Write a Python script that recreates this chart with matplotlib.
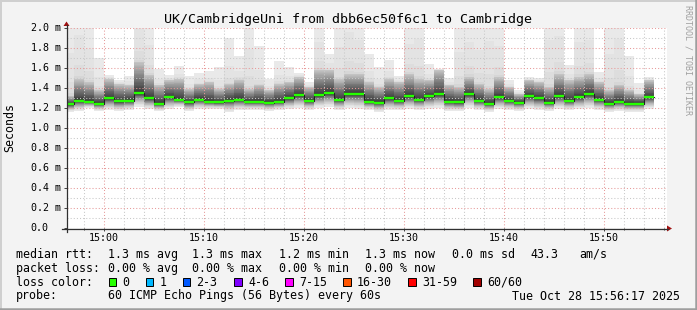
import numpy as np
import pandas as pd
import matplotlib
matplotlib.use('Agg')
from matplotlib import pyplot as plt
import matplotlib.dates as mdates
from matplotlib.lines import Line2D
from matplotlib.patches import Polygon, Rectangle
from matplotlib.ticker import MultipleLocator, NullFormatter
from matplotlib.transforms import blended_transform_factory

# per-minute ping statistics (ms), one value per 60s probe round, 14:56 .. 15:54
median_rtt = [1.236, 1.273, 1.263, 1.243, 1.296, 1.266, 1.273, 1.347, 1.296, 1.243,
              1.306, 1.283, 1.256, 1.283, 1.263, 1.256, 1.273, 1.283, 1.263, 1.263,
              1.253, 1.263, 1.296, 1.326, 1.273, 1.326, 1.347, 1.283, 1.337, 1.337,
              1.263, 1.253, 1.296, 1.273, 1.316, 1.283, 1.316, 1.337, 1.263, 1.256,
              1.337, 1.273, 1.243, 1.306, 1.273, 1.253, 1.316, 1.296, 1.253, 1.316,
              1.273, 1.306, 1.337, 1.283, 1.243, 1.263, 1.243, 1.243, 1.306]
rtt_min = [1.16, 1.17, 1.20, 1.17, 1.18, 1.17, 1.18, 1.21, 1.19, 1.17,
           1.19, 1.21, 1.17, 1.19, 1.19, 1.19, 1.16, 1.18, 1.18, 1.18,
           1.17, 1.18, 1.19, 1.20, 1.18, 1.20, 1.21, 1.18, 1.20, 1.19,
           1.18, 1.16, 1.18, 1.18, 1.19, 1.18, 1.19, 1.20, 1.17, 1.17,
           1.20, 1.18, 1.16, 1.19, 1.18, 1.17, 1.19, 1.18, 1.17, 1.19,
           1.18, 1.19, 1.20, 1.18, 1.16, 1.17, 1.16, 1.16, 1.19]
rtt_p90 = [1.32, 1.49, 1.46, 1.38, 1.49, 1.44, 1.43, 1.66, 1.53, 1.43,
           1.48, 1.49, 1.39, 1.44, 1.46, 1.39, 1.44, 1.48, 1.39, 1.43,
           1.38, 1.44, 1.46, 1.51, 1.41, 1.58, 1.58, 1.49, 1.54, 1.54,
           1.46, 1.41, 1.49, 1.46, 1.54, 1.49, 1.48, 1.58, 1.43, 1.41,
           1.51, 1.44, 1.39, 1.51, 1.41, 1.34, 1.48, 1.46, 1.41, 1.54,
           1.48, 1.51, 1.54, 1.46, 1.38, 1.43, 1.38, 1.34, 1.48]
rtt_max = [2.4, 2.6, 2.3, 1.70, 1.53, 1.48, 1.52, 2.5, 2.3, 1.59,
           1.53, 1.62, 1.52, 1.555, 1.57, 1.61, 1.90, 1.72, 2.4, 1.82,
           1.49, 1.67, 1.61, 1.555, 1.46, 2.3, 1.745, 2.3, 2.6, 2.4,
           1.74, 1.61, 1.68, 1.52, 2.3, 2.5, 1.64, 1.595, 1.50, 2.3,
           2.4, 2.3, 2.6, 2.3, 1.484, 1.384, 1.51, 1.50, 2.6, 2.5,
           1.63, 2.4, 2.4, 1.56, 2.3, 2.6, 1.725, 1.45, 1.51]

y_ticks = [0.0, 0.2, 0.4, 0.6, 0.8, 1.0, 1.2, 1.4, 1.6, 1.8, 2.0]
y_tick_labels = ['0.0', '0.2 m', '0.4 m', '0.6 m', '0.8 m', '1.0 m',
                 '1.2 m', '1.4 m', '1.6 m', '1.8 m', '2.0 m']

title = 'UK/CambridgeUni from dbb6ec50f6c1 to Cambridge'
rtt_legend = ['1.3 ms avg', '1.3 ms max', '1.2 ms min', '1.3 ms now', '0.0 ms sd', '43.3', 'am/s']
loss_legend = ['0.00 % avg', '0.00 % max', '0.00 % min', '0.00 % now']
loss_labels = ['0', '1', '2-3', '4-6', '7-15', '16-30', '31-59', '60/60']
loss_colors = ['#26ff00', '#00b8ff', '#0059ff', '#7e00ff', '#ff00ff', '#ff5500', '#ff0000', '#a10000']
probe_text = '60 ICMP Echo Pings (56 Bytes) every 60s'
stamp_text = 'Tue Oct 28 15:56:17 2025'

PINGS = 60
W, H = 697, 310
MONO = 'DejaVu Sans Mono'


def fx(x):
    return x / W


def fy(y):
    return 1 - y / H


def ping_at(rank, lo, med, p90, hi):
    # rough quantile curve through the values read off the smoke
    rank = np.asarray(rank, dtype=float)
    low = lo + (med - lo) * np.clip(rank / 0.5, 0, 1) ** 0.6
    mid = med + (p90 - med) * np.clip((rank - 0.5) / 0.4, 0, 1)
    tail = p90 + (hi - p90) * np.clip((rank - 0.9) / 0.1, 0, 1) ** 5
    return np.where(rank <= 0.5, low, np.where(rank <= 0.9, mid, tail))


med = np.array(median_rtt)
lo = np.array(rtt_min)
p90 = np.array(rtt_p90)
hi = np.array(rtt_max)

step_start = pd.date_range('2025-10-28 14:56', periods=len(med), freq='min')
edges = mdates.date2num(step_start.append(pd.DatetimeIndex([step_start[-1] + pd.Timedelta(minutes=1)])))
t0 = mdates.date2num(pd.Timestamp('2025-10-28 14:56:17'))
t1 = mdates.date2num(pd.Timestamp('2025-10-28 15:56:17'))

fig = plt.figure(figsize=(W / 100, H / 100), dpi=100, facecolor='#f3f3f3')
ax = fig.add_axes([fx(67), 1 - 228 / H, 600 / W, 200 / H])
ax.set_facecolor('white')

# smoke: pairs of sorted pings, lighter outside, darker toward the median
half = PINGS // 2
for i in range(1, half + 1):
    bottom = ping_at((i - 1) / (PINGS - 1), lo, med, p90, hi)
    top = ping_at((PINGS - i) / (PINGS - 1), lo, med, p90, hi)
    c = int(190 / half * (half - i)) + 50
    ax.fill_between(edges, np.append(bottom, bottom[-1]), np.append(top, top[-1]),
                    step='post', color='#%02x%02x%02x' % (c, c, c),
                    linewidth=0, antialiased=False, zorder=1)

# median line
ax.step(edges, np.append(med, med[-1]), where='post', color='#202020', linewidth=0.8, zorder=3)
ax.hlines(med, edges[:-1], edges[1:], color=loss_colors[0], linewidth=1.7, zorder=4)

ax.set_xlim(t0, t1)
ax.set_ylim(0, 2.0)

ax.yaxis.set_major_locator(MultipleLocator(0.2))
ax.yaxis.set_minor_locator(MultipleLocator(0.1))
ax.yaxis.set_major_formatter(NullFormatter())
ax.xaxis.set_major_locator(mdates.MinuteLocator(byminute=range(0, 60, 10)))
ax.xaxis.set_minor_locator(mdates.MinuteLocator(byminute=range(0, 60, 2)))
ax.xaxis.set_major_formatter(mdates.DateFormatter('%H:%M'))

ax.set_axisbelow(False)
ax.grid(which='major', color='#e79a9a', linestyle=(0, (1, 2)), linewidth=0.75)
ax.grid(which='minor', color='#c8c8c8', linestyle=(0, (1, 2)), linewidth=0.75)

for s in ax.spines.values():
    s.set_visible(False)
ax.tick_params(axis='y', which='major', length=2, width=0.7, color='#404040')
ax.tick_params(axis='y', which='minor', length=0)
ax.tick_params(axis='x', which='major', length=2, width=0.7, color='#404040', pad=1.5,
               labelsize=7.2, labelcolor='black')
ax.tick_params(axis='x', which='minor', length=1.5, width=0.7, color='#404040')
for lab in ax.get_xticklabels():
    lab.set_fontfamily(MONO)

# y tick labels, digits aligned
ytrans = blended_transform_factory(fig.transFigure, ax.transData)
for v, lab in zip(y_ticks, y_tick_labels):
    fig.text(fx(30.5), v, lab, transform=ytrans, ha='left', va='center',
             fontsize=7.2, fontfamily=MONO, color='black')

# axes with arrows
axis_col = '#303030'
arrow_col = '#a01010'
fig.add_artist(Line2D([fx(62), fx(668)], [fy(228.5), fy(228.5)], color=axis_col, linewidth=0.9))
fig.add_artist(Line2D([fx(66.5), fx(66.5)], [fy(232), fy(25)], color=axis_col, linewidth=0.9))
fig.add_artist(Polygon([(fx(667), fy(225.5)), (fx(672), fy(228.5)), (fx(667), fy(231.5))],
                       closed=True, color=arrow_col, linewidth=0))
fig.add_artist(Polygon([(fx(63.5), fy(26)), (fx(66.5), fy(21.5)), (fx(69.5), fy(26))],
                       closed=True, color=arrow_col, linewidth=0))

# frame
fig.add_artist(Line2D([0, 1], [fy(0.5), fy(0.5)], color='#cfcfcf', linewidth=1.4))
fig.add_artist(Line2D([fx(0.5), fx(0.5)], [0, 1], color='#cfcfcf', linewidth=1.4))
fig.add_artist(Line2D([0, 1], [fy(309), fy(309)], color='#9e9e9e', linewidth=1.8))
fig.add_artist(Line2D([fx(696), fx(696)], [0, 1], color='#9e9e9e', linewidth=1.8))

# titles
fig.text(fx(348), fy(19), title, ha='center', va='center', fontsize=9.6, fontfamily=MONO)
fig.text(fx(10), fy(128), 'Seconds', ha='center', va='center', rotation=90,
         fontsize=8.4, fontfamily=MONO)
fig.text(fx(688), fy(5), 'RRDTOOL / TOBI OETIKER', ha='center', va='top', rotation=270,
         fontsize=6, fontfamily=MONO, color='#a0a0a0')

# legend block
lg = dict(fontsize=8.4, fontfamily=MONO, va='center', ha='left', color='black')
row_y = [254.3, 268.3, 282.3, 296]
fig.text(fx(16), fy(row_y[0]), 'median rtt:', **lg)
for x, s in zip([107.5, 192, 279, 365, 451.5, 530, 579], rtt_legend):
    fig.text(fx(x), fy(row_y[0]), s, **lg)
fig.text(fx(16), fy(row_y[1]), 'packet loss:', **lg)
for x, s in zip([107.5, 192, 279, 365], loss_legend):
    fig.text(fx(x), fy(row_y[1]), s, **lg)
fig.text(fx(16), fy(row_y[2]), 'loss color:', **lg)
for x, s, c in zip([122.5, 159.5, 196.5, 248, 299, 357, 422, 487], loss_labels, loss_colors):
    fig.add_artist(Rectangle((fx(x - 14), fy(row_y[2] + 4)), 7.5 / W, 8 / H,
                             facecolor=c, edgecolor='black', linewidth=0.7))
    fig.text(fx(x), fy(row_y[2]), s, **lg)
fig.text(fx(16), fy(row_y[3]), 'probe:', **lg)
fig.text(fx(107.5), fy(row_y[3]), probe_text, **lg)
fig.text(fx(680), fy(row_y[3]), stamp_text, **dict(lg, ha='right'))

fig.savefig('out.png', dpi=100, facecolor=fig.get_facecolor())
